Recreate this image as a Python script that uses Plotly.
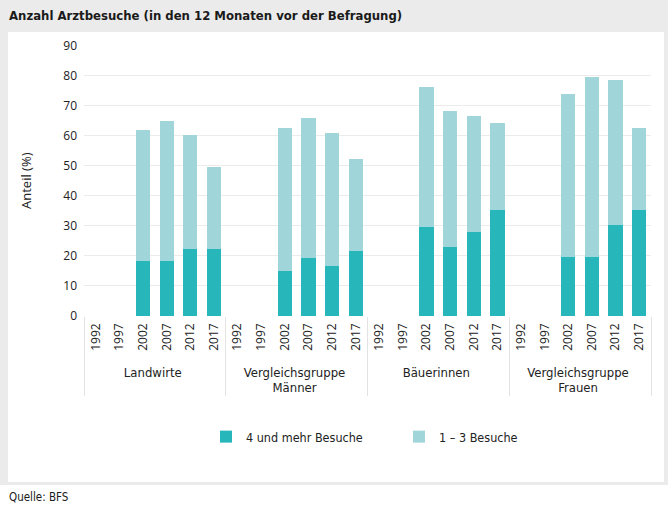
import plotly.graph_objects as go

groups = ["Landwirte", "Vergleichsgruppe<br>Männer", "Bäuerinnen", "Vergleichsgruppe<br>Frauen"]
years = ["1992", "1997", "2002", "2007", "2012", "2017"]

# 4 und mehr Besuche (%)
viele = {
    "Landwirte": [None, None, 18.3, 18.3, 22.2, 22.2],
    "Vergleichsgruppe<br>Männer": [None, None, 15.1, 19.2, 16.7, 21.6],
    "Bäuerinnen": [None, None, 29.6, 23.0, 27.9, 35.2],
    "Vergleichsgruppe<br>Frauen": [None, None, 19.8, 19.8, 30.4, 35.2],
}
# 1 – 3 Besuche (%) (stacked on top)
wenige = {
    "Landwirte": [None, None, 43.6, 46.8, 38.0, 27.6],
    "Vergleichsgruppe<br>Männer": [None, None, 47.6, 46.7, 44.3, 30.6],
    "Bäuerinnen": [None, None, 46.8, 45.2, 38.7, 29.0],
    "Vergleichsgruppe<br>Frauen": [None, None, 54.1, 59.8, 48.4, 27.4],
}

DARK = "#27b6ba"
LIGHT = "#a0d5d9"
GRID = "#ebebeb"
NARROW = "DejaVu Sans Condensed, Roboto"

W, H = 668, 508
L, R, T, B = 84, 651, 45, 316


def px2x(px):
    return (px - L) / (R - L)


def py2y(py):
    return (B - py) / (B - T)


def grp_label(g):
    return '<span style="font-family:%s;font-size:13px">%s</span>' % (NARROW, g)


xg, xy, v1, v2 = [], [], [], []
for g in groups:
    for i, y in enumerate(years):
        xg.append(grp_label(g))
        xy.append("\u00a0\u00a0" + y)
        v1.append(viele[g][i])
        v2.append(wenige[g][i])

fig = go.Figure()
fig.add_bar(x=[xg, xy], y=v1, name="4 und mehr Besuche", marker_color=DARK,
            marker_line_width=0)
fig.add_bar(x=[xg, xy], y=v2, name="1 – 3 Besuche", marker_color=LIGHT,
            marker_line_width=0)

fig.update_layout(
    width=W, height=H,
    margin=dict(l=L, r=W - R, t=T, b=H - B),
    barmode="stack", bargap=0.4,
    paper_bgcolor="white", plot_bgcolor="rgba(0,0,0,0)",
    font=dict(family="Open Sans", size=12, color="#222222"),
    showlegend=True,
    legend=dict(orientation="h", x=px2x(206), y=py2y(437), xanchor="left", yanchor="middle",
                font=dict(family=NARROW, size=12.5, color="#222222"),
                entrywidth=148, entrywidthmode="pixels", traceorder="normal",
                bgcolor="rgba(0,0,0,0)"),
    xaxis=dict(type="multicategory", tickangle=-90, showdividers=True,
               dividercolor="#e3e3e3", dividerwidth=1, showgrid=False,
               tickfont=dict(family="Open Sans", size=12, color="#222222"),
               showline=False, ticks="", ticklabelstandoff=4),
    yaxis=dict(range=[0, 90.3], tickvals=list(range(0, 91, 10)), showgrid=True,
               gridcolor=GRID, gridwidth=1, zeroline=False, showline=False,
               tickfont=dict(family="Open Sans", size=12, color="#222222"),
               ticklabelstandoff=6),
    shapes=[
        dict(type="rect", xref="paper", yref="paper", layer="below",
             x0=px2x(0), x1=px2x(668), y0=py2y(485), y1=py2y(0),
             fillcolor="#ebebeb", line_width=0),
        dict(type="rect", xref="paper", yref="paper", layer="below",
             x0=px2x(8), x1=px2x(664), y0=py2y(482), y1=py2y(32),
             fillcolor="white", line_width=0),
    ],
    annotations=[
        dict(text="<b>Anzahl Arztbesuche (in den 12 Monaten vor der Befragung)</b>",
             xref="paper", yref="paper", x=px2x(7), y=py2y(16), xanchor="left",
             yanchor="middle", showarrow=False,
             font=dict(family=NARROW, size=13, color="#1a1a1a")),
        dict(text="Anteil (%)", xref="paper", yref="paper", x=px2x(26), y=py2y(181),
             xanchor="center", yanchor="middle", textangle=-90, showarrow=False,
             font=dict(family="Open Sans", size=13, color="#222222")),
        dict(text="Quelle: BFS", xref="paper", yref="paper", x=px2x(7), y=py2y(497),
             xanchor="left", yanchor="middle", showarrow=False,
             font=dict(family=NARROW, size=11.5, color="#1a1a1a")),
    ],
)

fig.write_html("out.html", config={"displayModeBar": False},
               post_script="document.body.style.margin='0';document.body.style.padding='0';")
